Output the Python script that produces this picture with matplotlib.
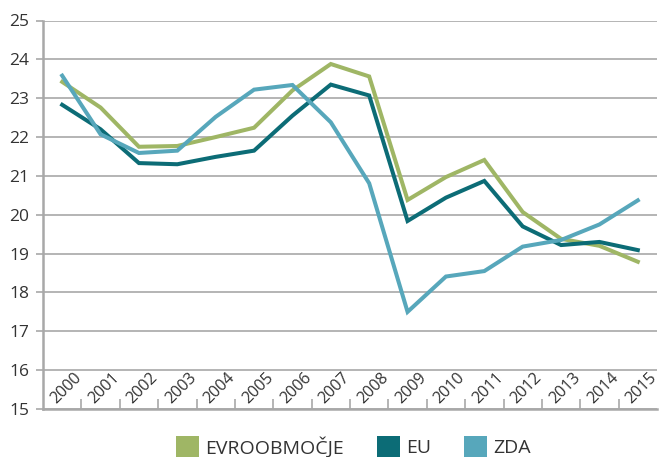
import matplotlib.pyplot as plt
from matplotlib.patches import Patch

plt.rcParams['font.family'] = ['Open Sans', 'DejaVu Sans']

years = [str(y) for y in range(2000, 2016)]
evroobmocje = [23.42, 22.76, 21.75, 21.77, 22.0, 22.24, 23.2, 23.88, 23.56, 20.38,
               20.97, 21.41, 20.07, 19.38, 19.2, 18.79]
eu = [22.83, 22.2, 21.33, 21.3, 21.49, 21.65, 22.55, 23.35, 23.07, 19.84,
      20.44, 20.87, 19.7, 19.22, 19.3, 19.09]
zda = [23.58, 22.07, 21.59, 21.65, 22.52, 23.22, 23.34, 22.38, 20.81, 17.5,
       18.41, 18.55, 19.18, 19.35, 19.75, 20.37]

names = ['EVROOBMOČJE', 'EU', 'ZDA']
colors = ['#9FB665', '#0C6C76', '#57A7BB']
grid_col = '#A8A8A8'
txt_col = '#333333'

fig = plt.figure(figsize=(6.6, 4.57), dpi=100)
ax = fig.add_axes([43/660, 1-409/457, 614/660, (409-20.5)/457])

x = [i + 0.5 for i in range(len(years))]
for vals, c in zip([evroobmocje, eu, zda], colors):
    ax.plot(x, vals, color=c, lw=2.9, solid_joinstyle='miter', zorder=3)

ax.set_xlim(0, len(years))
ax.set_ylim(15, 25)
ax.set_yticks(range(15, 26))
ax.yaxis.grid(True, color=grid_col, lw=1.2)
ax.set_axisbelow(True)

ax.set_xticks(range(1, len(years)))
ax.set_xticklabels([])
ax.tick_params(axis='x', direction='in', length=7, width=1.2, color=grid_col)
ax.tick_params(axis='y', length=5, width=1.2, color=grid_col, pad=5,
               labelsize=12.5, labelcolor=txt_col)

for s in ['top', 'right']:
    ax.spines[s].set_visible(False)
for s in ['left', 'bottom']:
    ax.spines[s].set_color(grid_col)
    ax.spines[s].set_linewidth(1.8)

for i, lab in enumerate(years):
    ax.text(i + 0.6, 15.53, lab, rotation=45, ha='center', va='center',
            fontsize=11.6, color=txt_col, clip_on=False)

handles = [Patch(facecolor=c, edgecolor='none', label=n) for n, c in zip(names, colors)]
fig.legend(handles=handles, loc='center', bbox_to_anchor=(0.536, 0.022), ncol=3,
           frameon=False, fontsize=14, handlelength=1.15, handleheight=1.3,
           handletextpad=0.35, columnspacing=1.7, borderpad=0, labelcolor=txt_col)

fig.savefig('out.png', dpi=100)
